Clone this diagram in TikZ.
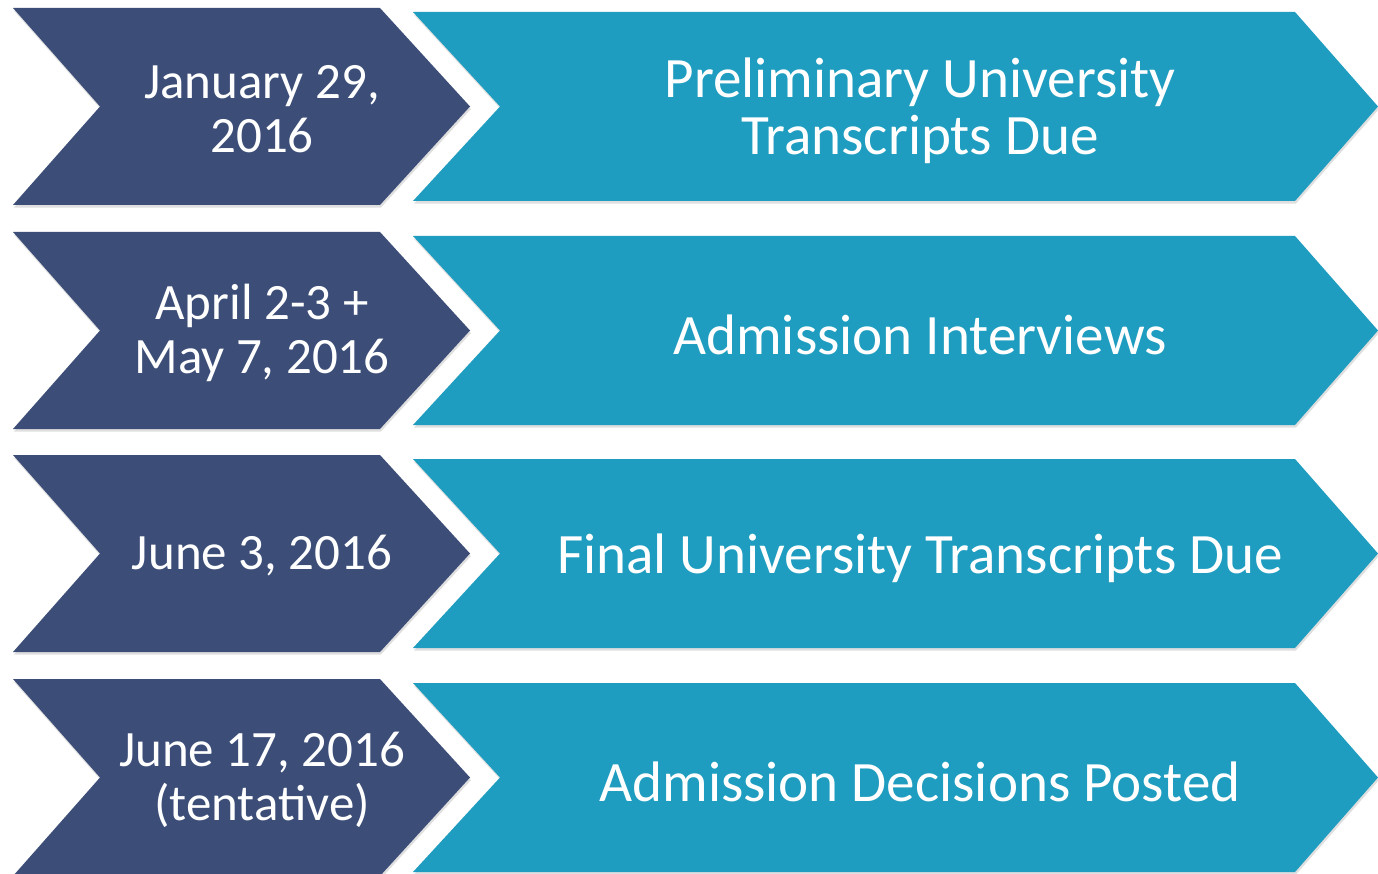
\documentclass[tikz,border=0pt]{standalone}
\usepackage{fontspec}
\setmainfont{Carlito}
\usetikzlibrary{shadows}
\definecolor{navy}{RGB}{60,78,120}
\definecolor{sea}{RGB}{31,157,192}

\begin{document}
\begin{tikzpicture}[x=0.02cm, y=-0.02cm,
		chev/.style={drop shadow={opacity=0.25, shadow xshift=0.5pt, shadow yshift=-1.5pt}},
		datelabel/.style={text=white, align=center, inner sep=0pt, font=\fontsize{29}{31}\selectfont},
		steplabel/.style={text=white, align=center, inner sep=0pt, font=\fontsize{32.5}{32.5}\selectfont}]
		\useasboundingbox (0,0) rectangle (1378,874);
		\fill[white] (0,0) rectangle (1378,874);
		% one row per date: dark chevron with the date, teal chevron with the step
		\foreach \ty/\dtxt/\stxt [count=\i] in {
				8/{January 29,\\2016}/{Preliminary University\\Transcripts Due},
				232/{April 2-3 +\\May 7, 2016}/{Admission Interviews},
				455/{June 3, 2016}/{Final University Transcripts Due},
				679/{June 17, 2016\\(tentative)}/{Admission Decisions Posted}}{
			\begin{scope}[shift={(0,\ty)}]
				\fill[navy, chev] (13,0) -- (380,0) -- (470,98.5) -- (380,197) -- (13,197) -- (100,98.5) -- cycle;
				\fill[sea, chev] (413,4) -- (1295,4) -- (1378,98.5) -- (1295,193) -- (413,193) -- (500,98.5) -- cycle;
				\node[datelabel] (d\i) at (262,101) {\dtxt};
				\node[steplabel] (s\i) at (920,103) {\stxt};
			\end{scope}
		}
	\end{tikzpicture}
\end{document}
